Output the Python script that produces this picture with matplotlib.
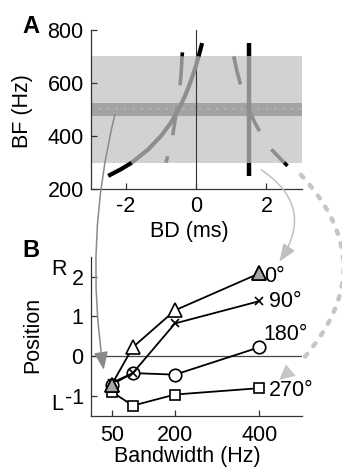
import matplotlib
matplotlib.use("Agg")
import matplotlib.pyplot as plt
from matplotlib.patches import ConnectionPatch

plt.rcParams['font.family'] = ['Liberation Sans', 'DejaVu Sans']
plt.rcParams['font.size'] = 15.5

# panel A: best delay contours
bf_solid = [250, 275, 300, 350, 400, 450, 500, 550, 600, 650, 700, 725, 750]
bd_solid = [-2.5, -2.14, -1.83, -1.36, -1.0, -0.72, -0.5, -0.32, -0.17, -0.04, 0.07, 0.12, 0.17]
bf_dash = [700, 650, 600, 550, 500, 450, 400, 350, 300]
bd_dash_left = [-0.40, -0.42, -0.45, -0.50, -0.55, -0.61, -0.67, -0.75, -0.86]
bd_dash_right = [1.07, 1.15, 1.25, 1.36, 1.5, 1.67, 1.88, 2.14, 2.5]
bf_tip_left = [700, 715]
bd_tip_left = [-0.40, -0.39]
bf_tip_right = [300, 288]
bd_tip_right = [2.5, 2.6]
itd = 1.5
bf_range = [250, 750]
band = [300, 700]
band_center = [475, 525]

# panel B
bandwidth = [50, 100, 200, 400]
pos_0 = [-0.72, 0.22, 1.15, 2.08]
pos_90 = [-0.68, -0.43, 0.82, 1.38]
pos_180 = [-0.72, -0.43, -0.47, 0.22]
pos_270 = [-0.9, -1.25, -0.97, -0.81]
phase_labels = ['0°', '90°', '180°', '270°']

fig = plt.figure(figsize=(3.42, 4.73), dpi=100)
axA = fig.add_axes([0.265, 0.600, 0.617, 0.337])
axB = fig.add_axes([0.265, 0.1214, 0.617, 0.336])

gray = '#8e8e8e'

# ---- panel A
axA.axhspan(band[0], band[1], color='#d2d2d2', lw=0, zorder=0)
axA.axhspan(band_center[0], band_center[1], color='#a3a3a3', lw=0, zorder=0.5)
axA.axhline(500, color='#bdbdbd', lw=1.2, ls=(0, (1, 4)), zorder=0.6)
axA.axvline(0, color='#333333', lw=0.8, zorder=1)

lo = [i for i, f in enumerate(bf_solid) if f <= band[0]]
mid = [i for i, f in enumerate(bf_solid) if band[0] <= f <= band[1]]
hi = [i for i, f in enumerate(bf_solid) if f >= band[1]]
for idx, c in [(lo, 'k'), (mid, gray), (hi, 'k')]:
    axA.plot([bd_solid[i] for i in idx], [bf_solid[i] for i in idx], color=c, lw=3,
             solid_capstyle='butt', zorder=3)

for bd in [bd_dash_left, bd_dash_right]:
    axA.plot(bd, bf_dash, color=gray, lw=2.6, dashes=(8, 6), dash_capstyle='butt', zorder=3)
axA.plot(bd_tip_left, bf_tip_left, color='k', lw=2.6, solid_capstyle='butt', zorder=3)
axA.plot(bd_tip_right, bf_tip_right, color='k', lw=2.6, solid_capstyle='butt', zorder=3)

axA.plot([itd, itd], [bf_range[0], band[0]], color='k', lw=3.2, solid_capstyle='butt', zorder=3)
axA.plot([itd, itd], [band[0], band[1]], color=gray, lw=3.2, solid_capstyle='butt', zorder=3)
axA.plot([itd, itd], [band[1], bf_range[1]], color='k', lw=3.2, solid_capstyle='butt', zorder=3)

axA.set_xlim(-3, 3)
axA.set_ylim(200, 800)
axA.set_xticks([-2, 0, 2])
axA.set_xticklabels(['-2', '0', '2'])
axA.set_yticks([200, 400, 600, 800])
axA.set_xlabel('BD (ms)')
axA.set_ylabel('BF (Hz)')
axA.xaxis.set_label_coords(0.47, -0.2)
axA.yaxis.set_label_coords(-0.275, 0.49)

# ---- panel B
axB.axhline(0, color='#444444', lw=0.9, zorder=1)
mk = dict(color='k', lw=1.3, mfc='white', mec='k', mew=1.2, zorder=3)
axB.plot(bandwidth, pos_270, marker='s', ms=7, **mk)
axB.plot(bandwidth, pos_180, marker='o', ms=9, **mk)
axB.plot(bandwidth, pos_90, marker='x', ms=6, **mk)
axB.plot(bandwidth, pos_0, marker='^', ms=10, **mk)
# highlighted points
axB.plot([bandwidth[0], bandwidth[-1]], [pos_0[0], pos_0[-1]], ls='none', marker='^', ms=10,
         mfc='#a8a8a8', mec='k', mew=1.2, zorder=4)

axB.text(412, 2.0, phase_labels[0], va='center', ha='left')
axB.text(423, 1.37, phase_labels[1], va='center', ha='left')
axB.text(410, 0.55, phase_labels[2], va='center', ha='left')
axB.text(423, -0.88, phase_labels[3], va='center', ha='left')
axB.text(-76, 2.17, 'R', va='center', ha='center', clip_on=False)
axB.text(-78, -1.21, 'L', va='center', ha='center', clip_on=False)

axB.set_xlim(0, 500)
axB.set_ylim(-1.5, 2.5)
axB.set_xticks([50, 200, 400])
axB.set_yticks([-1, 0, 1, 2])
axB.set_yticklabels(['-1', '0', '1', '2'])
axB.set_xlabel('Bandwidth (Hz)')
axB.set_ylabel('Position')
axB.xaxis.set_label_coords(0.46, -0.19)
axB.yaxis.set_label_coords(-0.225, 0.51)

for ax in [axA, axB]:
    for s in ['top', 'right']:
        ax.spines[s].set_visible(False)
    for s in ['left', 'bottom']:
        ax.spines[s].set_linewidth(0.9)
        ax.spines[s].set_color('#333333')
    ax.tick_params(direction='in', length=4, width=0.9, pad=5, colors='#333333',
                   labelcolor='k')
axB.tick_params(axis='x', pad=7)

fig.text(0.065, 0.944, 'A', fontsize=17, fontweight='bold', ha='left', va='center')
fig.text(0.065, 0.470, 'B', fontsize=17, fontweight='bold', ha='left', va='center')

# arrows from panel A to panel B
a1 = ConnectionPatch(xyA=(-2.31, 481), coordsA=axA.transData,
                     xyB=(31, -0.35), coordsB=axB.transData,
                     arrowstyle='-|>,head_length=0.9,head_width=0.35', mutation_scale=12,
                     connectionstyle='arc3,rad=0.1', color='#8a8a8a', lw=1.1, zorder=5)
a2 = ConnectionPatch(xyA=(1.85, 273), coordsA=axA.transData,
                     xyB=(447, 2.37), coordsB=axB.transData,
                     arrowstyle='-|>,head_length=0.9,head_width=0.35', mutation_scale=12,
                     connectionstyle='arc3,rad=-0.5', color='#c0c0c0', lw=1.1, zorder=5)
a3 = ConnectionPatch(xyA=(2.98, 254), coordsA=axA.transData,
                     xyB=(505, -0.05), coordsB=axB.transData,
                     arrowstyle='-', connectionstyle='arc3,rad=-0.45',
                     color='#c6c6c6', lw=3.2, ls=(0, (0.8, 2.2)), capstyle='round', zorder=5)
a4 = ConnectionPatch(xyA=(480, -0.3), coordsA=axB.transData,
                     xyB=(447, -0.6), coordsB=axB.transData,
                     arrowstyle='-|>,head_length=0.9,head_width=0.45', mutation_scale=12,
                     color='#c6c6c6', lw=0.01, zorder=5)
for a in [a1, a2, a3, a4]:
    fig.add_artist(a)

fig.savefig('out.png', dpi=100)
